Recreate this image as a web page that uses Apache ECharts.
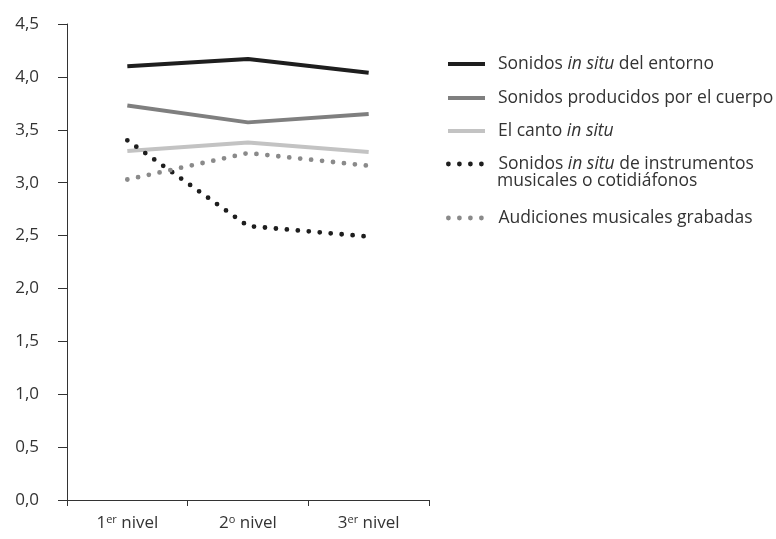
<!DOCTYPE html>
<html>
<head>
<meta charset="utf-8">
<script src="https://cdn.jsdelivr.net/npm/echarts@6/dist/echarts.min.js"></script>
<style>
html,body{margin:0;padding:0;background:#fff;}
#c{width:776px;height:539px;}
</style>
</head>
<body>
<div id="c"></div>
<script>
const categories = ['1er nivel', '2o nivel', '3er nivel'];
const catLabels = [['1', 'er'], ['2', 'o'], ['3', 'er']];
const yTicks = [0, 0.5, 1, 1.5, 2, 2.5, 3, 3.5, 4, 4.5];
const seriesNames = [
  'Sonidos in situ del entorno',
  'Sonidos producidos por el cuerpo',
  'El canto in situ',
  'Sonidos in situ de instrumentos musicales o cotidiáfonos',
  'Audiciones musicales grabadas'
];
const entorno = [4.10, 4.17, 4.04];
const cuerpo = [3.73, 3.57, 3.65];
const canto = [3.30, 3.38, 3.29];
const instrumentos = [3.40, 2.59, 2.49];
const audiciones = [3.03, 3.28, 3.16];

const FONT = '"Open Sans", "Noto Sans", sans-serif';
const TXT = '#333333';
const FS = 17;
const LFS = 17.5;

const C_BLACK = '#1e1e1e';
const C_DARK = '#7f7f7f';
const C_LIGHT = '#c3c3c3';
const C_DOTGRAY = '#8a8a8a';

const legendRich = {
  n: {fontFamily: FONT, fontSize: LFS, color: TXT, lineHeight: 20},
  i: {fontFamily: FONT, fontSize: LFS, color: TXT, fontStyle: 'italic', lineHeight: 20}
};
const legendFmt = function (name) {
  if (name === seriesNames[0]) return '{n|Sonidos }{i|in situ}{n| del entorno}';
  if (name === seriesNames[1]) return '{n|Sonidos producidos por el cuerpo}';
  if (name === seriesNames[2]) return '{n|El canto }{i|in situ}';
  if (name === seriesNames[3]) return '{n|Sonidos }{i|in situ}{n| de instrumentos}';
  return '{n|Audiciones musicales grabadas}';
};
function mkLegend(name, center, lineStyle) {
  return {
    data: [name],
    orient: 'vertical',
    left: 446,
    top: center - 10,
    padding: 0,
    itemWidth: 37,
    itemHeight: 20,
    selectedMode: false,
    formatter: legendFmt,
    itemStyle: {opacity: 0, borderWidth: 0},
    lineStyle: lineStyle,
    textStyle: {fontFamily: FONT, fontSize: LFS, color: TXT, lineHeight: 20, padding: [0, 0, 0, 8], rich: legendRich}
  };
}

function solid(name, data, color) {
  return {
    name: name, type: 'line', data: data, symbol: 'none',
    lineStyle: {color: color, width: 4, cap: 'butt'},
    itemStyle: {color: color},
    z: 3
  };
}
function dotted(name, data, color) {
  return {
    name: name, type: 'line', data: data, symbol: 'none',
    lineStyle: {color: color, width: 4.8, type: [0, 11], cap: 'round'},
    itemStyle: {color: color},
    z: 4
  };
}

const chart = echarts.init(document.getElementById('c'));
chart.setOption({
  animation: false,
  backgroundColor: '#ffffff',
  grid: {left: 67, right: 347, top: 24, bottom: 39},
  legend: [
    mkLegend(seriesNames[0], 64, {color: C_BLACK, width: 4, type: 'solid', cap: 'butt'}),
    mkLegend(seriesNames[1], 98, {color: C_DARK, width: 4, type: 'solid', cap: 'butt'}),
    mkLegend(seriesNames[2], 131, {color: C_LIGHT, width: 4, type: 'solid', cap: 'butt'}),
    mkLegend(seriesNames[3], 164, {color: C_BLACK, width: 4.8, type: [0, 11], cap: 'round'}),
    mkLegend(seriesNames[4], 218, {color: C_DOTGRAY, width: 4.8, type: [0, 11], cap: 'round'})
  ],
  graphic: [{
    type: 'text', x: 497, y: 181,
    style: {text: 'musicales o cotidiáfonos', fontFamily: FONT, fontSize: LFS, fill: TXT, verticalAlign: 'middle'}
  }],
  xAxis: {
    type: 'category',
    data: categories,
    boundaryGap: true,
    axisLine: {show: true, lineStyle: {color: TXT, width: 1}},
    axisTick: {show: true, length: 6, lineStyle: {color: TXT}},
    axisLabel: {
      margin: 14,
      interval: 0,
      formatter: function (v, idx) {
        const p = catLabels[idx];
        return '{a|' + p[0] + '}{s|' + p[1] + '}{a| nivel}';
      },
      rich: {
        a: {fontFamily: FONT, fontSize: FS, color: TXT},
        s: {fontFamily: FONT, fontSize: 11, color: TXT, padding: [0, 0, 8, 0]}
      }
    }
  },
  yAxis: {
    type: 'value',
    min: 0, max: 4.5, interval: 0.5,
    axisLine: {show: true, lineStyle: {color: TXT, width: 1}},
    axisTick: {show: true, length: 9, lineStyle: {color: TXT}},
    splitLine: {show: false},
    axisLabel: {
      margin: 28,
      fontFamily: FONT, fontSize: FS, color: TXT,
      formatter: function (v) {
        const t = yTicks.find(x => Math.abs(x - v) < 1e-9);
        return (t !== undefined ? t : v).toFixed(1).replace('.', ',');
      }
    }
  },
  series: [
    solid(seriesNames[0], entorno, C_BLACK),
    solid(seriesNames[1], cuerpo, C_DARK),
    solid(seriesNames[2], canto, C_LIGHT),
    dotted(seriesNames[3], instrumentos, C_BLACK),
    dotted(seriesNames[4], audiciones, C_DOTGRAY)
  ]
});
</script>
</body>
</html>
